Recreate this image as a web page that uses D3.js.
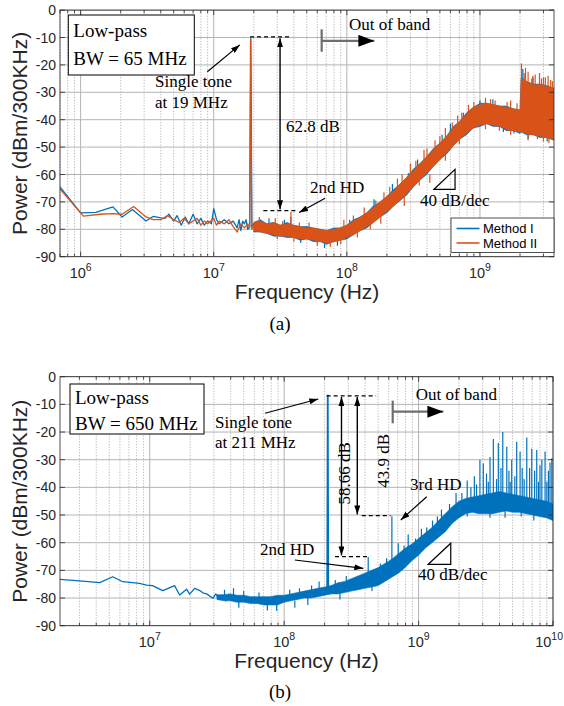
<!DOCTYPE html>
<html><head><meta charset="utf-8">
<script src="https://cdn.jsdelivr.net/npm/d3@7"></script>
<style>body{margin:0;background:#fff}svg{display:block}</style>
</head><body>
<svg id="c" width="564" height="706"></svg>
<script>
// ---------------- DATA ----------------
const yTicks = [0,-10,-20,-30,-40,-50,-60,-70,-80,-90];
const yDomain = [-90, 0];
const xTicksA = [1e6,1e7,1e8,1e9];
const xTicksB = [1e7,1e8,1e9,1e10];
const xDomainA = [7e5, 3.6e9];
const xDomainB = [2.15e6, 1e10];
const seriesNames = ["Method I","Method II"];

// (a) sparse low-frequency part incl. the 19 MHz tone  [Hz, dBm]
const aLowI = [[7e5,-64.5],[1.0e6,-74],[1.3e6,-73.8],[1.75e6,-71.8],[2.05e6,-75.5],[2.45e6,-72.8],[3.1e6,-77],[3.5e6,-75.3],[4.0e6,-75.8],[4.3e6,-76],[4.6e6,-74.5],[5.0e6,-77],[5.3e6,-75],[5.7e6,-78.5],[6.1e6,-75.5],[6.5e6,-78],[7.0e6,-74.5],[7.5e6,-78],[8.0e6,-76],[8.5e6,-78.5],[9.0e6,-77],[9.6e6,-78],[1.0e7,-72.5],[1.05e7,-76.5],[1.1e7,-78],[1.2e7,-76.5],[1.3e7,-78],[1.4e7,-77],[1.5e7,-79.5],[1.55e7,-76.5],[1.6e7,-80.5],[1.65e7,-77],[1.7e7,-78],[1.75e7,-76.5],[1.8e7,-80],[1.865e7,-79],[1.9e7,-10.3],[1.935e7,-79],[2.0e7,-78]];
const aLowII = [[7e5,-65.3],[1.05e6,-75.2],[1.4e6,-74.5],[1.75e6,-74.3],[2.05e6,-74.5],[2.5e6,-71.7],[3.1e6,-75.5],[3.5e6,-76.5],[4.0e6,-76.5],[4.5e6,-75],[5.0e6,-76.5],[5.5e6,-77.5],[6.0e6,-76],[6.5e6,-78],[7.0e6,-77],[7.5e6,-76],[8.0e6,-78.5],[8.5e6,-77],[9.0e6,-78],[1.0e7,-76],[1.05e7,-78.5],[1.1e7,-77],[1.2e7,-78],[1.3e7,-76.5],[1.4e7,-79],[1.5e7,-81],[1.6e7,-78],[1.7e7,-79.5],[1.8e7,-78],[1.86e7,-79.5],[1.89e7,-11],[1.93e7,-80],[2.0e7,-78.5]];

// (a) dense noise band  [Hz, lower edge, upper edge]
const aBandI = [[2.0e7,-81,-77.5],[2.24e7,-81,-76.5],[2.51e7,-81.5,-78],[2.82e7,-82.5,-77.5],[3.16e7,-82.5,-78.5],[3.55e7,-83,-77.5],[3.98e7,-83,-78.5],[4.47e7,-84,-79],[5.01e7,-83.5,-79],[5.62e7,-84.5,-79.5],[6.31e7,-84.5,-80],[7.08e7,-85.5,-80.5],[7.94e7,-84.5,-79.5],[8.91e7,-84,-79.5],[1.0e8,-83.5,-78.5],[1.12e8,-82,-76.5],[1.26e8,-80.5,-75.5],[1.41e8,-79.5,-74],[1.58e8,-77.5,-71.5],[1.78e8,-75.5,-70],[2.0e8,-74,-68],[2.24e8,-71.5,-65.5],[2.51e8,-69.5,-63.5],[2.82e8,-67.5,-61],[3.16e8,-64.5,-58],[3.55e8,-62,-56],[3.98e8,-60,-53.5],[4.47e8,-57,-50.5],[5.01e8,-54.5,-48.5],[5.62e8,-52.5,-46],[6.31e8,-49.5,-42.5],[7.08e8,-47,-40.5],[7.94e8,-45.5,-37.5],[8.91e8,-43,-35.5],[1.0e9,-42.5,-34],[1.12e9,-41.5,-34],[1.26e9,-42.5,-34.5],[1.41e9,-42.5,-35],[1.58e9,-44,-35],[1.78e9,-44,-36],[2.0e9,-45,-36.5],[2.04e9,-44.5,-24.5],[2.24e9,-45.5,-26],[2.51e9,-45.5,-27],[2.82e9,-46.5,-27],[3.16e9,-46.5,-27.5],[3.6e9,-47.5,-28.5]];
const aBandII = [[2.0e7,-80.5,-77.5],[2.24e7,-81,-77],[2.51e7,-81.5,-78],[2.82e7,-82,-77.5],[3.16e7,-82.5,-78.5],[3.55e7,-82.5,-78],[3.98e7,-83,-78.5],[4.47e7,-83.5,-79],[5.01e7,-83.5,-79.5],[5.62e7,-84,-79.5],[6.31e7,-84.5,-80],[7.08e7,-85,-80.5],[7.94e7,-84.5,-80],[8.91e7,-84,-79.5],[1.0e8,-83,-78.5],[1.12e8,-82,-77],[1.26e8,-80.5,-75.5],[1.41e8,-79,-74],[1.58e8,-77.5,-72],[1.78e8,-75.5,-70],[2.0e8,-73.5,-68],[2.24e8,-71.5,-66],[2.51e8,-69.5,-63.5],[2.82e8,-67,-61],[3.16e8,-64.5,-58.5],[3.55e8,-62,-56],[3.98e8,-59.5,-53.5],[4.47e8,-57,-51],[5.01e8,-54.5,-48.5],[5.62e8,-52,-46],[6.31e8,-49.5,-43],[7.08e8,-47,-40.5],[7.94e8,-45,-38],[8.91e8,-43,-35.5],[1.0e9,-42,-34.5],[1.12e9,-41.5,-34],[1.26e9,-42,-34.5],[1.41e9,-42.5,-35],[1.58e9,-43.5,-35.5],[1.78e9,-44,-36],[2.0e9,-44.5,-36.5],[2.04e9,-44.5,-25],[2.24e9,-45,-26],[2.51e9,-45.5,-27.5],[2.82e9,-46,-27],[3.16e9,-46.5,-28],[3.6e9,-47,-28.5]];

// (a) individual spikes  [Hz, base, tip]
const aSpikesI = [[3.8e7,-80,-75.5],[4.5e7,-82,-85],[6.8e7,-84,-86.8],[8.5e7,-83,-86],[1.6e8,-72,-69],[2.2e8,-67,-63.5],[3.4e8,-58,-54.5],[5.2e8,-50,-45.5],[7.5e8,-42,-37.5],[1.0e9,-38,-33],[1.5e9,-40,-44.5],[1.8e9,-40,-45],[2.1e9,-30,-21.5],[2.5e9,-30,-24.5],[2.6e7,-79,-76],[3.4e7,-80,-76.5],[1.05e8,-80,-76.5],[2.9e8,-63,-59.5],[6.0e8,-46,-41.5],[1.25e9,-37,-32.5],[2.3e9,-44,-47],[3.2e9,-45,-48]];
const aSpikesII = [[3.8e7,-80,-73.6],[5.2e7,-80,-77.5],[9.5e7,-80,-76.5],[1.35e8,-76,-72],[1.9e8,-70,-66.5],[2.4e8,-65,-61.5],[3.0e8,-60,-56],[3.8e8,-55,-51],[4.6e8,-52,-47.5],[5.5e8,-48,-43],[6.8e8,-43,-38.5],[8.2e8,-39,-34.5],[1.1e9,-36,-32],[1.3e9,-36,-33],[1.6e9,-37,-33.5],[1.9e9,-38,-34],[2.05e9,-30,-19.5],[2.15e9,-29,-23],[2.3e9,-29,-22.5],[2.45e9,-30,-25],[2.6e9,-30,-23.5],[2.9e9,-30,-25],[3.1e9,-31,-24.5],[3.4e9,-31,-25.5],[6.0e7,-84,-86],[7.5e7,-84,-86.5],[1.5e8,-77,-80],[2.7e8,-68,-71.5],[4.2e8,-60,-63],[1.4e9,-42,-44],[2.7e9,-45,-47],[3.3e9,-46,-48.5],
  [2.2e7,-78,-75.5],[2.9e7,-79,-76],[3.3e7,-80,-77],[4.4e7,-80,-77.5],[1.12e8,-78,-75],[1.65e8,-73,-69.5],[2.1e8,-68,-64.5],[2.6e8,-64,-60],[3.3e8,-59,-55],[4.0e8,-55,-50.5],[5.0e8,-50,-46],[6.2e8,-45,-41],[7.3e8,-42,-37.5],[9.0e8,-37,-33.5],[1.2e9,-36,-32.5],[1.7e9,-37,-33],[2.2e9,-30,-21],[2.5e9,-30,-24],[2.8e9,-30,-23],[3.0e9,-30,-24.5],[3.25e9,-31,-24],[3.5e9,-31,-26],
  [3.0e7,-81,-83.5],[4.0e7,-82,-84.5],[9.0e7,-83,-85.5],[1.2e8,-81,-83],[1.8e8,-75,-78],[3.5e8,-61,-64],[5.5e8,-52,-55],[7.0e8,-46,-49],[1.1e9,-41,-43.5],[1.7e9,-43,-45.5],[2.3e9,-45,-47.5],[3.0e9,-46,-48]];

// (b) Method I only
const bLow = [[2.1e6,-73.2],[3.0e6,-73.8],[4.25e6,-74.4],[5.3e6,-72.3],[6.3e6,-74.1],[8.4e6,-74.7],[9.5e6,-75.3],[1.05e7,-75.5],[1.25e7,-77.3],[1.53e7,-75.5],[1.67e7,-78.9],[1.88e7,-76.8],[1.98e7,-78.6],[2.16e7,-76.5],[2.36e7,-77.3],[2.48e7,-78.1],[2.65e7,-78.5],[2.95e7,-80.1],[3.1e7,-78.5],[3.3e7,-80.5],[3.5e7,-79],[3.7e7,-81],[3.9e7,-78.5]];
const bBand = [[3.16e7,-80.5,-78.8],[3.55e7,-81,-78.8],[3.98e7,-81,-78.5],[4.47e7,-81.5,-79],[5.01e7,-81.5,-79],[5.62e7,-82,-79.5],[6.31e7,-82,-79.5],[7.08e7,-82.5,-79.5],[7.94e7,-82.5,-79.5],[8.91e7,-82.5,-79],[1.0e8,-81.5,-79],[1.12e8,-81,-78.5],[1.26e8,-80.5,-78],[1.41e8,-80,-77.5],[1.58e8,-80,-77],[1.78e8,-79.5,-76.5],[2.0e8,-79,-76],[2.24e8,-78.5,-75.5],[2.51e8,-78.5,-74.5],[2.82e8,-78,-74],[3.16e8,-77.5,-73],[3.55e8,-77,-72],[3.98e8,-76.5,-71],[4.47e8,-76,-70],[5.01e8,-75.5,-69],[5.62e8,-74,-67.5],[6.31e8,-72.5,-66],[7.08e8,-71,-64],[7.94e8,-69,-62],[8.91e8,-66.5,-60.5],[1.0e9,-64.5,-58.5],[1.12e9,-62,-56.5],[1.26e9,-60,-54.5],[1.41e9,-58,-52],[1.58e9,-56,-49.5],[1.78e9,-53,-47],[2.0e9,-51,-45],[2.24e9,-49.5,-44],[2.51e9,-49,-43.5],[2.82e9,-49.5,-43],[3.16e9,-49.5,-42.5],[3.55e9,-49.5,-42],[3.98e9,-49,-41.5],[4.47e9,-48.5,-42],[5.01e9,-49,-42.5],[5.62e9,-49,-43],[6.31e9,-49.5,-43.5],[7.08e9,-50,-44],[7.94e9,-50.5,-44.5],[8.91e9,-51,-45],[1.0e10,-52,-46]];
const bTone = [[2.09e8,-78],[2.11e8,-6.5],[2.13e8,-78]];
const bSpikes = [[4.2e7,-79,-76.5],[8.8e7,-81,-84.7],[1.82e8,-78,-74],[3.46e8,-74,-72.3],[4.22e8,-73,-65.2],[5.78e8,-70,-65.6],[6.33e8,-69,-50.4],[7.06e8,-66,-60.2],[8.37e8,-63,-57],[1.05e9,-59,-55],[1.27e9,-56,-52],[1.48e9,-53,-48],[1.9e9,-48,-42],[2.3e9,-46,-37.5],[2.6e9,-45,-36],[2.86e9,-44,-30],[3.03e9,-44,-31.3],[3.2e9,-44,-35],[3.4e9,-44,-29],[3.6e9,-44,-22.5],[3.92e9,-44,-24],[4.23e9,-44,-20],[4.53e9,-44,-25.3],[4.7e9,-44,-34],[4.93e9,-44,-30],[5.37e9,-44,-23.5],[5.69e9,-44,-27],[5.9e9,-44,-33],[6.38e9,-45,-22],[6.95e9,-45,-26],[7.3e9,-45,-34],[7.57e9,-45,-26.5],[8.26e9,-46,-30],[8.73e9,-46,-27],[9.25e9,-46,-34],[9.8e9,-46,-29.5],
  [3.6e7,-79,-77],[5.0e7,-80,-77.5],[6.5e7,-80,-78],[1.1e8,-79,-77],[1.3e8,-79,-76.5],[1.6e8,-78,-75.5],[2.4e8,-76,-73.5],[2.9e8,-75,-72],[5.2e8,-71,-67.5],[7.8e8,-65,-61],[9.5e8,-62,-58.5],[1.15e9,-58,-54.5],[1.38e9,-55,-50.5],[1.7e9,-51,-46],[2.1e9,-47,-42],[2.45e9,-45,-40],[2.7e9,-45,-39],[3.3e9,-44,-38],[3.8e9,-43,-37],[4.1e9,-43,-33],[4.8e9,-43,-38],[5.2e9,-44,-36],[6.1e9,-44,-37],[6.7e9,-44,-33],[7.8e9,-45,-38],[8.0e9,-45,-32],[9.0e9,-46,-38],[9.5e9,-46,-31],
  [4.6e7,-81,-83.5],[7.5e7,-82,-84.5],[1.2e8,-81,-83.5],[1.5e8,-80,-82.5],[2.6e8,-78,-80.5],[4.5e8,-75,-77.5],[2.3e9,-48,-50.5],[3.4e9,-48,-51],[4.4e9,-48,-51],[5.8e9,-48,-50.5],[7.2e9,-49,-52]];

// annotation anchors in data space [Hz, dBm]
const annA = {
  toneDash:[[1.874e7,-9.8],[3.74e7,-9.8]], hdDash:[[2.36e7,-73.2],[4.2e7,-73.2]],
  dbArrow:[[3.15e7,-10.3],[3.15e7,-72.7]], dbText:[3.49e7,-44.4],
  hdText:[5.28e7,-66.8], hdArrow:[[6.86e7,-68.7],[4.38e7,-73.9]],
  toneArrow:[[8.95e6,-22.5],[1.57e7,-12.7]], toneText:[3.62e6,-28.1,-35.8],
  oobText:[1.04e8,-7.3], oobBar:[6.47e7,-7.0,-15.2], oobArrow:[[6.47e7,-11.2],[1.61e8,-11.2]],
  tri:[[4.52e8,-65.4],[6.5e8,-58.1]], triText:[3.55e8,-71.5]
};
const annB = {
  toneDash:[[2.07e8,-6.9],[4.83e8,-6.9]], hd2Dash:[[2.39e8,-65.06],[4.16e8,-65.06]], hd3Dash:[[3.78e8,-50.24],[6.2e8,-50.24]],
  arrow1:[[2.67e8,-7.3],[2.67e8,-64.6]], arrow2:[[3.5e8,-7.3],[3.5e8,-49.8]],
  t1:[3.09e8,-34.9], t2:[5.98e8,-30.4],
  hd3Text:[8.64e8,-40.95], hd3Arrow:[[1.15e9,-43.4],[7.37e8,-51.8]],
  hd2Text:[6.61e7,-64.4], hd2Arrow:[[1.2e8,-66.25],[3.88e8,-69.25]],
  toneArrow:[[7.2e7,-13.2],[1.796e8,-8.06]], toneText:[3.06e7,-18.65,-25.7],
  oobText:[9.52e8,-8.42], oobBar:[6.42e8,-8.67,-16.84], oobArrow:[[6.42e8,-12.65],[1.53e9,-12.65]],
  tri:[[1.181e9,-67.8],[1.735e9,-60.2]], triText:[9.91e8,-73.5]
};

// ---------------- DRAW ----------------
const W = 564;
const BLUE = "#0072BD", ORANGE = "#D95319", AX = "#262626";
const SERIF = "'Liberation Serif','Times New Roman',serif";
const SANS = "'Liberation Sans',Arial,Helvetica,sans-serif";
const svg = d3.select("#c");
const defs = svg.append("defs");
function mk(id, w, h){
  defs.append("marker").attr("id",id).attr("viewBox",`0 0 ${w} ${h}`).attr("refX",w).attr("refY",h/2)
    .attr("markerWidth",w).attr("markerHeight",h).attr("markerUnits","userSpaceOnUse")
    .attr("orient","auto-start-reverse").append("path").attr("d",`M0,0L${w},${h/2}L0,${h}Z`).attr("fill","#000");
}
mk("ah",9,6); mk("big",16,12);

function panel(o){
  const {L,R,T,B} = o.box;
  const x = d3.scaleLog().domain(o.xDomain).range([L,R]);
  const y = d3.scaleLinear().domain(yDomain).range([B,T]);
  const g = svg.append("g");
  const all = x.ticks();
  const minors = all.filter(v => !o.xTicks.some(m => Math.abs(m-v)/m < 1e-6));
  // grid
  g.append("g").selectAll("line").data(minors).join("line")
    .attr("x1",d=>x(d)).attr("x2",d=>x(d)).attr("y1",T).attr("y2",B)
    .attr("stroke","#9a9a9a").attr("stroke-width",0.7).attr("stroke-dasharray","1.2,1.6");
  g.append("g").selectAll("line").data(o.xTicks).join("line")
    .attr("x1",d=>x(d)).attr("x2",d=>x(d)).attr("y1",T).attr("y2",B)
    .attr("stroke","#b4b4b4").attr("stroke-width",1);
  g.append("g").selectAll("line").data(yTicks).join("line")
    .attr("x1",L).attr("x2",R).attr("y1",d=>y(d)).attr("y2",d=>y(d))
    .attr("stroke","#b4b4b4").attr("stroke-width",1);
  // clip
  const cid = "clip"+o.id;
  defs.append("clipPath").attr("id",cid).append("rect").attr("x",L).attr("y",T).attr("width",R-L).attr("height",B-T);
  const d = g.append("g").attr("clip-path",`url(#${cid})`);
  const line = d3.line().x(p=>x(p[0])).y(p=>y(p[1]));
  const area = d3.area().x(p=>x(p[0])).y0(p=>y(p[1])).y1(p=>y(p[2]));
  o.series.forEach(s=>{
    if (s.band) d.append("path").datum(s.band).attr("d",area).attr("fill",s.color)
      .attr("stroke",s.color).attr("stroke-width",0.6).attr("stroke-linejoin","round");
    if (s.low) d.append("path").datum(s.low).attr("d",line).attr("fill","none").attr("stroke",s.color).attr("stroke-width",1.3).attr("stroke-linejoin","round");
    if (s.tone) d.append("path").datum(s.tone).attr("d",line).attr("fill","none").attr("stroke",s.color).attr("stroke-width",1.8);
    if (s.spikes) d.append("g").selectAll("line").data(s.spikes).join("line")
      .attr("x1",p=>x(p[0])).attr("x2",p=>x(p[0])).attr("y1",p=>y(p[1])).attr("y2",p=>y(p[2]))
      .attr("stroke",s.color).attr("stroke-width",1.2);
  });
  // axes box + ticks
  const ax = g.append("g").attr("stroke",AX).attr("stroke-width",0.8);
  ax.append("rect").attr("x",L).attr("y",T).attr("width",R-L).attr("height",B-T).attr("fill","none");
  const tk = (data,len)=>{
    data.forEach(v=>{
      ax.append("line").attr("x1",x(v)).attr("x2",x(v)).attr("y1",B).attr("y2",B-len);
      ax.append("line").attr("x1",x(v)).attr("x2",x(v)).attr("y1",T).attr("y2",T+len);
    });
  };
  tk(minors,3); tk(o.xTicks,5);
  yTicks.forEach(v=>{
    ax.append("line").attr("x1",L).attr("x2",L+5).attr("y1",y(v)).attr("y2",y(v));
    ax.append("line").attr("x1",R).attr("x2",R-5).attr("y1",y(v)).attr("y2",y(v));
  });
  // tick labels
  g.append("g").selectAll("text").data(yTicks).join("text")
    .attr("x",L-4).attr("y",v=>y(v)).attr("dy","0.36em").attr("text-anchor","end")
    .attr("font-family",SANS).attr("font-size",14).attr("fill",AX).text(v=>v);
  const xl = g.append("g").selectAll("text").data(o.xTicks).join("text")
    .attr("x",v=>x(v)).attr("y",B+21.5).attr("text-anchor","middle")
    .attr("font-family",SANS).attr("font-size",14.5).attr("fill",AX);
  xl.append("tspan").text("10");
  xl.append("tspan").attr("dy",-7).attr("font-size",10.5).text(v=>Math.round(Math.log10(v)));
  // keep the rightmost label inside the page
  xl.each(function(v){
    const w = this.getComputedTextLength();
    const cx = x(v);
    if (cx + w/2 > W - 1) d3.select(this).attr("x", W - 1 - w/2);
  });
  // axis titles
  g.append("text").attr("x",(L+R)/2).attr("y",B+42.5).attr("text-anchor","middle")
    .attr("font-family",SANS).attr("font-size",21).attr("fill",AX).text("Frequency (Hz)");
  g.append("text").attr("transform",`translate(27,${(T+B)/2}) rotate(-90)`).attr("text-anchor","middle")
    .attr("font-family",SANS).attr("font-size",21).attr("fill",AX).text("Power (dBm/300KHz)");
  g.append("text").attr("x",280).attr("y",o.capY).attr("text-anchor","middle")
    .attr("font-family",SERIF).attr("font-size",19).attr("fill","#000").text(o.caption);
  // info box
  const bx = o.infoBox;
  g.append("rect").attr("x",bx[0]).attr("y",bx[1]).attr("width",bx[2]).attr("height",bx[3])
    .attr("fill","#fff").attr("stroke","#000").attr("stroke-width",1);
  o.infoText.forEach((t,i)=>g.append("text").attr("x",bx[0]+5).attr("y",bx[1]+bx[4]+i*bx[5])
    .attr("font-family",SERIF).attr("font-size",19).attr("fill","#000").text(t));
  return {g,x,y};
}

const ann = (g)=>g.append("g").attr("font-family",SERIF).attr("font-size",17).attr("fill","#000");
function seg(g,x,y,p,opt={}){
  const l = g.append("line").attr("x1",x(p[0][0])).attr("y1",y(p[0][1])).attr("x2",x(p[1][0])).attr("y2",y(p[1][1]))
    .attr("stroke",opt.color||"#000").attr("stroke-width",opt.w||1.2);
  if (opt.dash) l.attr("stroke-dasharray",opt.dash);
  if (opt.end) l.attr("marker-end",`url(#${opt.end})`);
  if (opt.start) l.attr("marker-start",`url(#${opt.start})`);
  return l;
}
function txt(g,x,y,p,s,rot){
  const t = g.append("text").text(s);
  if (rot) t.attr("transform",`translate(${x(p[0])},${y(p[1])}) rotate(-90)`).attr("text-anchor","middle");
  else t.attr("x",x(p[0])).attr("y",y(p[1]));
  return t;
}
function tri(g,x,y,t){
  const [a,b] = t;
  g.append("path").attr("d",`M${x(a[0])},${y(a[1])}L${x(b[0])},${y(b[1])}L${x(b[0])},${y(a[1])}Z`)
    .attr("fill","none").attr("stroke","#000").attr("stroke-width",1.2);
}

// ---- panel (a)
const A = panel({id:"a", box:{L:60,R:554,T:10.1,B:256.7}, xDomain:xDomainA, xTicks:xTicksA,
  caption:"(a)", capY:330, infoBox:[68.3,15,126,60,21.5,28.5], infoText:["Low-pass","BW = 65 MHz"],
  series:[
    {color:BLUE, low:aLowI, band:aBandI, spikes:aSpikesI},
    {color:ORANGE, low:aLowII, band:aBandII, spikes:aSpikesII}
  ]});
{
  const {g,x,y} = A; const a = ann(g);
  seg(a,x,y,annA.toneDash,{dash:"4,3"});
  seg(a,x,y,annA.hdDash,{dash:"4,3"});
  seg(a,x,y,annA.dbArrow,{start:"ah",end:"ah",w:1.4});
  txt(a,x,y,annA.dbText,"62.8 dB");
  txt(a,x,y,annA.hdText,"2nd HD");
  seg(a,x,y,annA.hdArrow,{end:"ah"});
  seg(a,x,y,annA.toneArrow,{end:"ah"});
  txt(a,x,y,[annA.toneText[0],annA.toneText[1]],"Single tone");
  txt(a,x,y,[annA.toneText[0],annA.toneText[2]],"at 19 MHz");
  txt(a,x,y,annA.oobText,"Out of band");
  const ob = annA.oobBar;
  seg(a,x,y,[[ob[0],ob[1]],[ob[0],ob[2]]],{color:"#6e6e6e",w:2.2});
  seg(a,x,y,annA.oobArrow,{color:"#6e6e6e",w:2.2,end:"big"});
  tri(a,x,y,annA.tri);
  txt(a,x,y,annA.triText,"40 dB/dec");
  // legend
  const lg = g.append("g");
  lg.append("rect").attr("x",451).attr("y",218).attr("width",103).attr("height",34.5)
    .attr("fill","#fff").attr("stroke",AX).attr("stroke-width",0.8);
  [BLUE,ORANGE].forEach((c,i)=>{
    lg.append("line").attr("x1",456.5).attr("x2",479.5).attr("y1",228.5+i*14.5).attr("y2",228.5+i*14.5).attr("stroke",c).attr("stroke-width",1.6);
    lg.append("text").attr("x",483).attr("y",233+i*14.5).attr("font-family",SANS).attr("font-size",13).attr("fill","#000").text(seriesNames[i]);
  });
}

// ---- panel (b)
const Bp = panel({id:"b", box:{L:60,R:553,T:376.7,B:625.7}, xDomain:xDomainB, xTicks:xTicksB,
  caption:"(b)", capY:698, infoBox:[70,384,134,50,20,25.5], infoText:["Low-pass","BW = 650 MHz"],
  series:[{color:BLUE, low:bLow, band:bBand, spikes:bSpikes, tone:bTone}]});
{
  const {g,x,y} = Bp; const a = ann(g);
  seg(a,x,y,annB.toneDash,{dash:"4,3"});
  seg(a,x,y,annB.hd2Dash,{dash:"4,3"});
  seg(a,x,y,annB.hd3Dash,{dash:"4,3"});
  seg(a,x,y,annB.arrow1,{start:"ah",end:"ah",w:1.4});
  seg(a,x,y,annB.arrow2,{start:"ah",end:"ah",w:1.4});
  txt(a,x,y,annB.t1,"58.66 dB",true);
  txt(a,x,y,annB.t2,"43.9 dB",true);
  txt(a,x,y,annB.hd3Text,"3rd HD");
  seg(a,x,y,annB.hd3Arrow,{end:"ah"});
  txt(a,x,y,annB.hd2Text,"2nd HD");
  seg(a,x,y,annB.hd2Arrow,{end:"ah"});
  seg(a,x,y,annB.toneArrow,{end:"ah"});
  txt(a,x,y,[annB.toneText[0],annB.toneText[1]],"Single tone");
  txt(a,x,y,[annB.toneText[0],annB.toneText[2]],"at 211 MHz");
  txt(a,x,y,annB.oobText,"Out of band");
  const ob = annB.oobBar;
  seg(a,x,y,[[ob[0],ob[1]],[ob[0],ob[2]]],{color:"#6e6e6e",w:2.2});
  seg(a,x,y,annB.oobArrow,{color:"#6e6e6e",w:2.2,end:"big"});
  tri(a,x,y,annB.tri);
  txt(a,x,y,annB.triText,"40 dB/dec");
}
</script>
</body></html>
